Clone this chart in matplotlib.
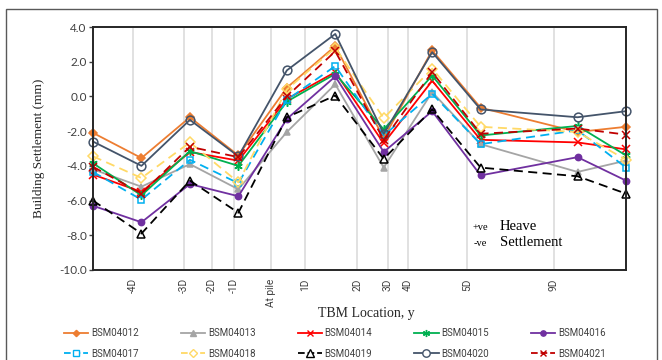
import matplotlib.pyplot as plt
from matplotlib.patches import Rectangle
from matplotlib.lines import Line2D

# data points are spaced on an index scale; 9 is skipped (gap between 5D and 9D)
x_pos = [0, 1, 2, 3, 4, 5, 6, 7, 8, 10, 11]

bsm04012 = [-2.1, -3.55, -1.2, -3.4, 0.5, 2.9, -2.4, 2.65, -0.65, -2.05, -1.75]
bsm04013 = [-4.2, -5.2, -3.9, -5.35, -2.05, 0.7, -4.1, 0.25, -2.75, -4.35, -3.7]
bsm04014 = [-4.5, -5.5, -3.2, -3.7, -0.15, 1.4, -2.7, 0.9, -2.5, -2.65, -3.05]
bsm04015 = [-3.85, -5.7, -3.15, -4.0, -0.3, 1.3, -1.9, 1.2, -2.25, -1.7, -3.4]
bsm04016 = [-6.3, -7.25, -5.05, -5.75, -1.3, 1.15, -3.2, -0.85, -4.55, -3.5, -4.85]
bsm04017 = [-4.35, -5.95, -3.65, -5.0, -0.2, 1.75, -2.25, 0.15, -2.75, -1.95, -4.1]
bsm04018 = [-3.45, -4.7, -2.65, -4.95, 0.4, 2.8, -1.25, 1.6, -1.75, -2.05, -3.65]
bsm04019 = [-6.0, -7.9, -4.85, -6.7, -1.2, 0.05, -3.6, -0.75, -4.1, -4.6, -5.6]
bsm04020 = [-2.6, -4.0, -1.35, -3.45, 1.5, 3.6, -2.15, 2.55, -0.75, -1.2, -0.85]
bsm04021 = [-4.05, -5.6, -2.9, -3.5, 0.0, 2.6, -2.5, 1.4, -2.15, -1.85, -2.2]

# TBM location ticks (vertical grid lines)
tbm_ticks = [0.82, 1.88, 2.45, 2.91, 3.67, 4.38, 5.45, 6.08, 6.50, 7.72, 9.51]
tbm_labels = ["-4D", "-3D", "-2D", "-1D", "At pile", "1D", "2D", "3D", "4D", "5D", "9D"]

series = [
    ("BSM04012", bsm04012, "#ED7D31", "-", "D", 3.8, "#ED7D31"),
    ("BSM04013", bsm04013, "#A5A5A5", "-", "^", 5.0, "#A5A5A5"),
    ("BSM04014", bsm04014, "#FF0000", "-", "x", 5.5, "#FF0000"),
    ("BSM04015", bsm04015, "#00B050", "-", (6, 2, 0), 6.0, "#00B050"),
    ("BSM04016", bsm04016, "#7030A0", "-", "o", 4.5, "#7030A0"),
    ("BSM04017", bsm04017, "#00B0F0", "--", "s", 5.0, "none"),
    ("BSM04018", bsm04018, "#FFD966", "--", "D", 4.8, "none"),
    ("BSM04019", bsm04019, "#000000", "--", "^", 6.0, "none"),
    ("BSM04020", bsm04020, "#44546A", "-", "o", 6.3, "none"),
    ("BSM04021", bsm04021, "#C00000", "--", "x", 5.5, "#C00000"),
]

W, H = 662, 360
fig = plt.figure(figsize=(W / 100, H / 100), dpi=100)
ax = fig.add_axes([93 / W, 1 - 270 / H, 533 / W, 243 / H])

for x in tbm_ticks:
    ax.axvline(x, color="#D9D9D9", lw=1.1, zorder=0)

for name, vals, col, ls, mk, ms, mfc in series:
    (ln,) = ax.plot(
        x_pos, vals, color=col, linestyle=ls, marker=mk, markersize=ms,
        markerfacecolor=mfc, markeredgecolor=col, markeredgewidth=1.1,
        lw=1.3, clip_on=False, label=name,
    )
    if ls == "--":
        ln.set_dashes((5, 3))

ax.set_xlim(0, 11)
ax.set_ylim(-10, 4)
ax.set_yticks([4, 2, 0, -2, -4, -6, -8, -10])
ax.set_yticklabels([f"{v:.1f}" for v in [4, 2, 0, -2, -4, -6, -8, -10]],
                   fontfamily="Lato", fontsize=8.5, color="#404040")
ax.tick_params(axis="y", length=3, width=1, pad=1.5, color="#404040")
ax.set_xticks(tbm_ticks)
ax.set_xticklabels(tbm_labels, rotation=90, fontfamily="Roboto", fontsize=7.3,
                   color="#404040", va="top")
ax.tick_params(axis="x", length=0, pad=6)
for sp in ax.spines.values():
    sp.set_color("#262626")
    sp.set_linewidth(1.4)

ax.set_ylabel("Building Settlement (mm)", fontfamily="Liberation Serif",
              fontsize=9.5, color="#262626", labelpad=10)
fig.text(366 / W, 1 - 313 / H, "TBM Location, y", fontfamily="Liberation Serif",
         fontsize=10, color="#262626", ha="center", va="center")

# heave / settlement note
fig.text(473 / W, 1 - 230.5 / H, "+ve", fontfamily="Liberation Serif", fontsize=7.5,
         va="baseline", ha="left")
fig.text(500 / W, 1 - 230.5 / H, "Heave", fontfamily="Liberation Serif", fontsize=10.5,
         va="baseline", ha="left")
fig.text(474 / W, 1 - 246 / H, "-ve", fontfamily="Liberation Serif", fontsize=7.5,
         va="baseline", ha="left")
fig.text(500 / W, 1 - 246 / H, "Settlement", fontfamily="Liberation Serif", fontsize=10.5,
         va="baseline", ha="left")

leg_handles = []
for name, vals, col, ls, mk, ms, mfc in series:
    h = Line2D([], [], color=col, linestyle=ls, marker=mk, markersize=ms * 0.85,
               markerfacecolor=mfc if mfc != "none" else "white",
               markeredgecolor=col, markeredgewidth=1.0, lw=1.3)
    leg_handles.append(h)
leg_labels = [s[0] for s in series]
# legend fills column-wise, so interleave to get row-wise order
order = [0, 5, 1, 6, 2, 7, 3, 8, 4, 9]
leg = fig.legend([leg_handles[i] for i in order], [leg_labels[i] for i in order],
                 ncol=5, loc="center", bbox_to_anchor=(335 / W, 1 - 343.5 / H),
                 frameon=False, prop={"family": "Roboto", "size": 7},
                 handlelength=2.5, handletextpad=0.3, columnspacing=4.3,
                 labelspacing=1.1)
for t in leg.get_texts():
    t.set_color("#404040")

fig.add_artist(Rectangle((6 / W, -0.05), 651 / W, 1.05 - 9 / H,
                         transform=fig.transFigure, fill=False,
                         ec="#595959", lw=1.0))

fig.savefig("out.png", dpi=100)
